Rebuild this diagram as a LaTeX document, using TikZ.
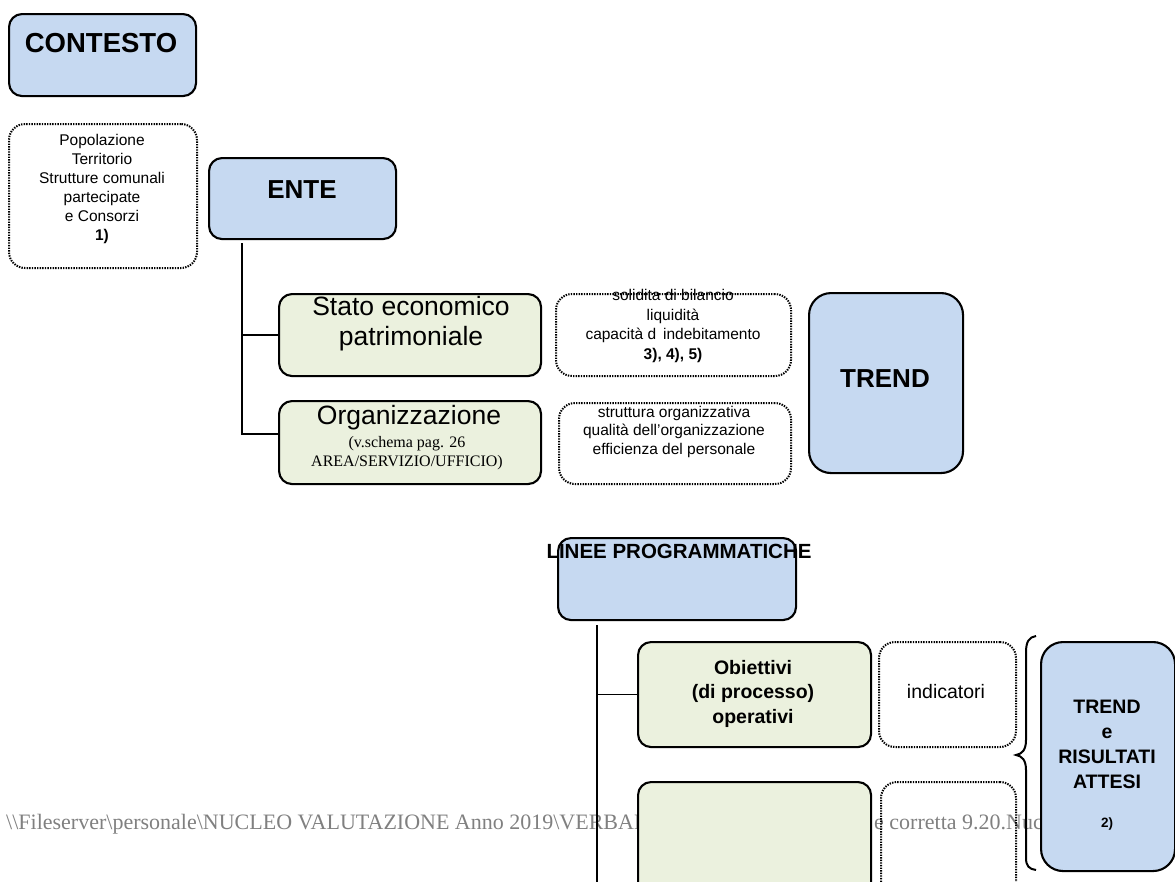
\documentclass[tikz,border=0pt]{standalone}
\usepackage{fontspec}
\setmainfont{Liberation Sans}
\newfontfamily\serifft{Liberation Serif}
\definecolor{boxblue}{RGB}{198,217,241}
\definecolor{boxgreen}{RGB}{235,241,222}
\definecolor{footgray}{RGB}{128,128,128}
\newcommand{\fs}[2]{\fontsize{#1}{#2}\selectfont}
\tikzset{
  boxbase/.style={draw, line width=2.1pt, rounded corners=13pt, inner sep=0pt, anchor=north west},
  bluebox/.style={boxbase, fill=boxblue},
  greenbox/.style={boxbase, fill=boxgreen},
  dotbox/.style={boxbase, rounded corners=16pt, line width=2pt, dash pattern=on 1.4pt off 1.2pt},
  txt/.style={inner sep=0pt, anchor=base, align=center},
  conn/.style={draw, line width=1.8pt},
}
\newcommand{\bx}[6]{\node[#1, minimum width=#4-#2, minimum height=#5-#3] (#6) at (#2,#3) {};}
\begin{document}
\begin{tikzpicture}[x=1pt,y=-1pt]
\useasboundingbox (0,0) rectangle (1175,881);
% footer text (behind)
\node[inner sep=0pt, anchor=base west, text=footgray, font=\serifft\fs{22}{26}] (footL) at (6,829)
  {\textbackslash\textbackslash Fileserver\textbackslash personale\textbackslash NUCLEO VALUTAZIONE Anno 2019\textbackslash VERBAL};
\node[inner sep=0pt, anchor=base west, text=footgray, font=\serifft\fs{22}{26}] (footR) at (874,829)
  {e corretta 9.20.Nuc};
% boxes
\bx{bluebox}{8}{13}{195}{95}{contesto}
\bx{dotbox}{8}{123}{196}{267}{ctxinfo}
\bx{bluebox}{208}{157}{395}{238}{ente}
\bx{greenbox}{278}{293}{540}{375}{stato}
\bx{dotbox}{555}{293}{790}{375}{statoinfo}
\bx{greenbox}{278}{400}{540}{483}{org}
\bx{dotbox}{558}{402}{790}{483}{orginfo}
\bx{bluebox, rounded corners=22pt}{808}{292}{962}{472}{trend}
\bx{bluebox}{557}{537}{795}{619}{linee}
\bx{greenbox}{637}{641}{870}{746}{obj}
\bx{dotbox}{878}{641}{1015}{746}{objinfo}
\bx{bluebox, rounded corners=22pt}{1040}{641}{1174}{870}{trendris}
\bx{greenbox}{637}{781}{870}{910}{objb}
\bx{dotbox}{880}{781}{1015}{910}{objbinfo}
% connectors
\coordinate (entebus) at (242,243);
\draw[conn] (entebus) |- (stato.west);
\draw[conn] (entebus) |- ([yshift=8.5pt]org.west);
\coordinate (lineebus) at (597,625);
\coordinate (lineeend) at (597,885);
\draw[conn] (lineebus) |- (obj.west);
\draw[conn] (lineebus) -- (lineeend);
% brace
\draw[line width=2pt] (1036,636) .. controls (1029,637) and (1026,642) .. (1026,652) -- (1026,740)
  .. controls (1026,750) and (1022,754) .. (1016,755)
  .. controls (1022,756) and (1026,760) .. (1026,770) -- (1026,858)
  .. controls (1026,866) and (1029,869) .. (1036,870);
% texts (base anchor = baseline of last line)
\node[txt, font=\bfseries\fs{27.5}{32}] (tcontesto) at (101,52) {CONTESTO};
\node[txt, font=\fs{15.5}{19}] (tctx) at (102,240) {Popolazione\\Territorio\\Strutture comunali\\partecipate\\e Consorzi\\\textbf{1)}};
\node[txt, font=\bfseries\fs{26}{30}] (tente) at (302,198) {ENTE};
\node[txt, font=\fs{26.5}{30}] (tstato) at (411,345) {Stato economico\\patrimoniale};
\node[txt, font=\fs{15.5}{19.5}] (tstatoinfo) at (673,359) {solidita di bilancio\\liquidità\\capacità d\hspace{0.45em}indebitamento\\\textbf{3), 4), 5)}};
\node[txt, font=\fs{26.5}{30}] (torg) at (409,424) {Organizzazione};
\node[txt, font=\serifft\fs{16}{18.5}] (torgsub) at (407,466) {(v.schema pag. 26\\AREA/SERVIZIO/UFFICIO)};
\node[txt, font=\fs{15.5}{18.5}] (torginfo) at (674,454) {struttura organizzativa\\qualità dell'organizzazione\\efficienza del personale};
\node[txt, font=\bfseries\fs{26}{30}] (ttrend) at (885,387) {TREND};
\node[txt, font=\bfseries\fs{20.5}{24}] (tlinee) at (679,558) {LINEE PROGRAMMATICHE};
\node[txt, font=\bfseries\fs{19.5}{24.5}] (tobj) at (753,723) {Obiettivi\\(di processo)\\operativi};
\node[txt, font=\fs{19.5}{24}] (tind) at (946,698) {indicatori};
\node[txt, font=\bfseries\fs{19.5}{24.7}] (ttrendris) at (1107,788) {TREND\\e\\RISULTATI\\ATTESI};
\node[txt, font=\bfseries\fs{13.5}{16}] (tnote) at (1107,827) {2)};
\end{tikzpicture}
\end{document}
